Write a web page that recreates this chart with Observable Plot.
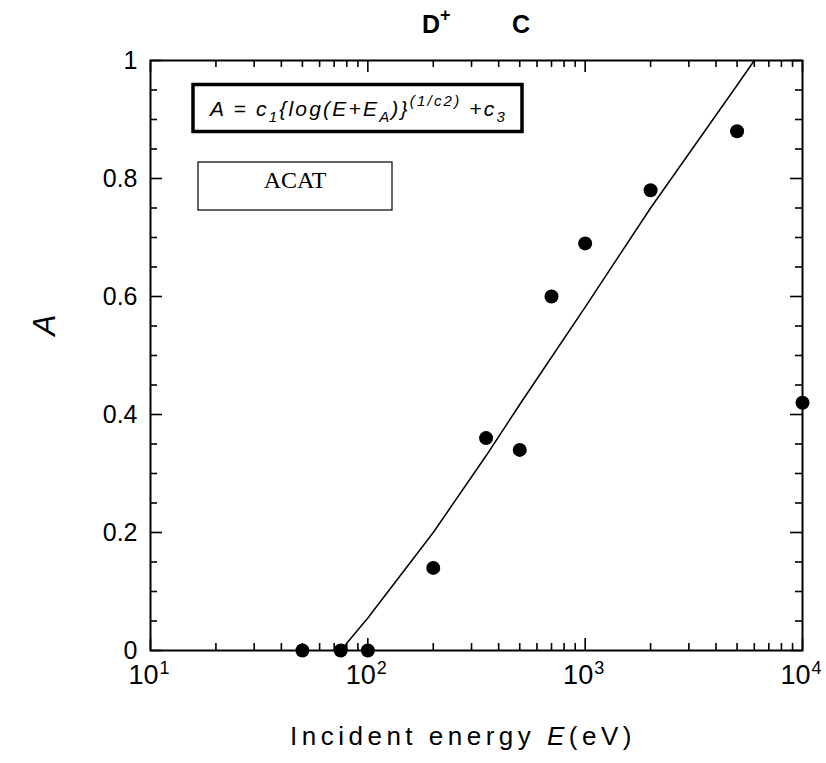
<!DOCTYPE html>
<html><head><meta charset="utf-8">
<script src="https://cdn.jsdelivr.net/npm/d3@7"></script>
<script src="https://cdn.jsdelivr.net/npm/@observablehq/plot@0.6"></script>
<style>body{margin:0;background:#fff} svg{display:block}</style>
</head><body><div id="chart"></div>
<script>
// measured points (D+ on C, ACAT)
const energies = [50, 75, 100, 200, 350, 500, 700, 1000, 2000, 5000, 10000];
const asym = [0, 0, 0, 0.14, 0.36, 0.34, 0.60, 0.69, 0.78, 0.88, 0.42];
// fitted curve A = c1{log(E+EA)}^(1/c2)+c3
const fitEnergies = [75, 100, 200, 350, 500, 700, 1000, 2000, 5000, 6000];
const fitA = [0, 0.055, 0.2, 0.33, 0.417, 0.497, 0.582, 0.75, 0.958, 1.0];
// ticks
const xMajor = [10, 100, 1000, 10000];
const xExponents = ["1", "2", "3", "4"];
const xMinor = [20,30,40,50,60,70,80,90,200,300,400,500,600,700,800,900,2000,3000,4000,5000,6000,7000,8000,9000];
const yMajor = [0, 0.2, 0.4, 0.6, 0.8, 1];
const yTickLabels = ["0", "0.2", "0.4", "0.6", "0.8", "1"];
const yMinor = [0.05,0.1,0.15,0.25,0.3,0.35,0.45,0.5,0.55,0.65,0.7,0.75,0.85,0.9,0.95];

const points = energies.map((E, i) => ({E, A: asym[i]}));
const fit = fitEnergies.map((E, i) => ({E, A: fitA[i]}));

const W = 826, H = 763, mL = 150, mR = 24, mT = 60, mB = 113;
const plotH = H - mT - mB, plotW = W - mL - mR;
const font = "'Liberation Sans', Arial, sans-serif";
const minorLen = 7, majorLen = 12;
const tk = {stroke: "black", strokeWidth: 1.6};

const chart = Plot.plot({
  width: W, height: H,
  marginLeft: mL, marginRight: mR, marginTop: mT, marginBottom: mB,
  style: {fontFamily: font, background: "white", color: "black", overflow: "visible"},
  x: {type: "log", domain: [10, 10000], axis: null},
  y: {domain: [0, 1], axis: null},
  marks: [
    Plot.tickX(xMinor, {x: d => d, insetTop: plotH - minorLen, ...tk}),
    Plot.tickX(xMinor, {x: d => d, insetBottom: plotH - minorLen, ...tk}),
    Plot.tickX(xMajor, {x: d => d, insetTop: plotH - majorLen, ...tk}),
    Plot.tickX(xMajor, {x: d => d, insetBottom: plotH - majorLen, ...tk}),
    Plot.tickY(yMinor, {y: d => d, insetRight: plotW - minorLen, ...tk}),
    Plot.tickY(yMinor, {y: d => d, insetLeft: plotW - minorLen, ...tk}),
    Plot.tickY(yMajor, {y: d => d, insetRight: plotW - majorLen, ...tk}),
    Plot.tickY(yMajor, {y: d => d, insetLeft: plotW - majorLen, ...tk}),
    Plot.frame({stroke: "black", strokeWidth: 2}),
    Plot.line(fit, {x: "E", y: "A", stroke: "black", strokeWidth: 1.5}),
    Plot.dot(points, {x: "E", y: "A", r: 7, fill: "black", stroke: "none"}),
    Plot.text(yMajor, {y: d => d, frameAnchor: "left", dx: -13, textAnchor: "end",
      text: (d, i) => yTickLabels[i], fontSize: 25, fill: "black", ariaLabel: "ylab"}),
    Plot.text(xMajor, {x: d => d, frameAnchor: "bottom", dy: 33, dx: 8, textAnchor: "end",
      text: () => "10", fontSize: 27, fill: "black"}),
    Plot.text(xMajor, {x: d => d, frameAnchor: "bottom", dy: 23, dx: 9, textAnchor: "start",
      text: (d, i) => xExponents[i], fontSize: 18, fill: "black"})
  ]
});
document.getElementById("chart").append(chart);

const svg = d3.select(chart);
svg.selectAll('g[aria-label="ylab"] text').attr("letter-spacing", 5);

function rich(x, y, parts, attrs) {
  const t = svg.append("text").attr("x", x).attr("y", y).attr("text-anchor", "start");
  for (const [k, v] of Object.entries(attrs)) t.attr(k, v);
  let cur = 0;
  for (const p of parts) {
    const s = t.append("tspan").text(p.t);
    const target = p.dy || 0;
    if (target !== cur) { s.attr("dy", target - cur); cur = target; }
    if (p.size) s.attr("font-size", p.size);
    if (p.italic) s.attr("font-style", "italic");
    if (p.weight) s.attr("font-weight", p.weight);
  }
  return t;
}

// Title
rich(422, 33, [{t: "D", weight: "bold"}, {t: "+", dy: -12, size: 18, weight: "bold"}],
  {"font-family": font, "font-size": 25, fill: "black"});
rich(512, 33, [{t: "C", weight: "bold"}], {"font-family": font, "font-size": 25, fill: "black"});

// Axis titles
rich(290, 745, [{t: "Incident energy "}, {t: "E", italic: true}, {t: "(eV)"}],
  {"font-family": font, "font-size": 26, "letter-spacing": 4.5, fill: "black"});
svg.append("text").attr("transform", "translate(55,325) rotate(-90)")
  .attr("text-anchor", "middle").attr("font-family", font).attr("font-size", 32)
  .attr("font-style", "italic").attr("fill", "black").text("A");

// Formula box
svg.append("rect").attr("x", 193).attr("y", 84.5).attr("width", 329).attr("height", 47)
  .attr("fill", "white").attr("stroke", "black").attr("stroke-width", 3.5);
rich(210, 116, [
  {t: "A = c"}, {t: "1", dy: 6, size: 15}, {t: "{log(E+E"}, {t: "A", dy: 6, size: 15},
  {t: ")}"}, {t: "(1/c2)", dy: -10, size: 15}, {t: " +c"}, {t: "3", dy: 6, size: 15}
], {"font-family": font, "font-size": 21, "font-style": "italic", "letter-spacing": 2.2, fill: "black"});

// ACAT box
svg.append("rect").attr("x", 198).attr("y", 162).attr("width", 194).attr("height", 48)
  .attr("fill", "white").attr("stroke", "black").attr("stroke-width", 1.2);
svg.append("text").attr("x", 295).attr("y", 188).attr("text-anchor", "middle")
  .attr("font-family", "'Liberation Serif', 'Times New Roman', serif").attr("font-size", 24)
  .attr("fill", "black").text("ACAT");
</script>
</body></html>
